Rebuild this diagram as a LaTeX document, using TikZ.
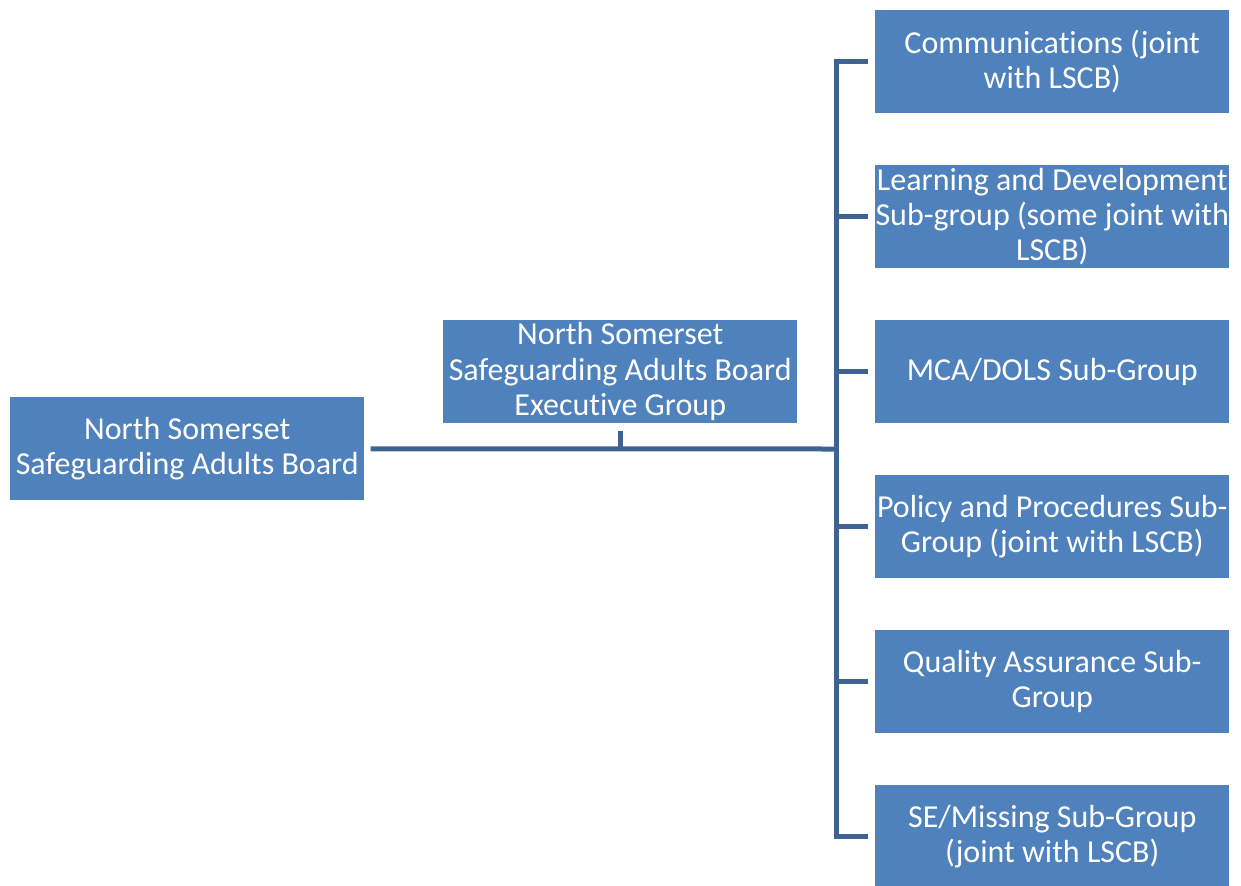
\documentclass[tikz,border=0pt]{standalone}
\usepackage{fontspec}
\setmainfont{Carlito}[Ligatures=NoCommon]
\usepackage{tikz}
\usetikzlibrary{calc}
\definecolor{boite}{RGB}{79,129,189}
\definecolor{trait}{RGB}{62,99,146}
\tikzstyle{groupe} = [rectangle, fill=boite, text=white, minimum height=77.25pt, minimum width=265.5pt, inner sep=0pt, align=center, font=\fontsize{24}{26.5}\selectfont]
\tikzstyle{ligne} = [draw=trait, line width=3.75pt]

\begin{document}
\begin{tikzpicture}[x=0.75pt, y=-0.75pt]

        \useasboundingbox (0,0) rectangle (1241,885);

        \node (board) [groupe, anchor=north west] at (10,397) {North Somerset\\Safeguarding Adults Board};
        \node (exec) [groupe, anchor=north west] at (443,320) {North Somerset\\Safeguarding Adults Board\\Executive Group};

        \node (g1) [groupe, anchor=north west] at (875,10) {Communications (joint\\with LSCB)};
        \node (g2) [groupe, anchor=north west] at (875,165) {Learning and Development\\Sub-group (some joint with\\LSCB)};
        \node (g3) [groupe, anchor=north west] at (875,320) {MCA/DOLS Sub-Group};
        \node (g4) [groupe, anchor=north west] at (875,475) {Policy and Procedures Sub-\\Group (joint with LSCB)};
        \node (g5) [groupe, anchor=north west] at (875,630) {Quality Assurance Sub-\\Group};
        \node (g6) [groupe, anchor=north west] at (875,785) {SE/Missing Sub-Group\\(joint with LSCB)};

        \coordinate (hub) at (836,449);

        \draw [ligne] ($(board.east) + (6,0)$) -- (hub);
        \draw [ligne] ($(exec.south) + (0,7)$) -- (exec.south |- hub);

        \draw [ligne] ($(g1.west) + (-7,0)$) -- (hub |- g1.west) -- (hub |- g6.west) -- ($(g6.west) + (-7,0)$);
        \draw [ligne] (hub |- g2.west) -- ($(g2.west) + (-7,0)$);
        \draw [ligne] (hub |- g3.west) -- ($(g3.west) + (-7,0)$);
        \draw [ligne] (hub |- g4.west) -- ($(g4.west) + (-7,0)$);
        \draw [ligne] (hub |- g5.west) -- ($(g5.west) + (-7,0)$);

    \end{tikzpicture}
\end{document}
